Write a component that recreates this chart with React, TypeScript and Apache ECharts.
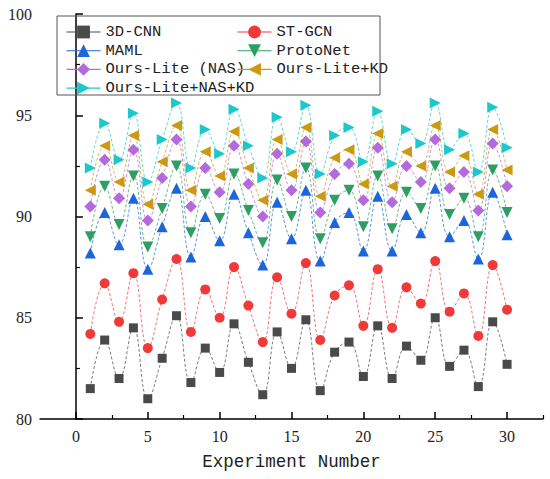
import React, { useEffect, useRef } from "react";
import * as echarts from "echarts";

const xValues = [1,2,3,4,5,6,7,8,9,10,11,12,13,14,15,16,17,18,19,20,21,22,23,24,25,26,27,28,29,30];

const cnn3d = [81.5,83.9,82.0,84.5,81.0,83.0,85.1,81.8,83.5,82.3,84.7,82.8,81.2,84.3,82.5,84.9,81.4,83.3,83.8,82.1,84.6,82.0,83.6,82.9,85.0,82.6,83.4,81.6,84.8,82.7];
const stgcn = [84.2,86.7,84.8,87.2,83.5,85.9,87.9,84.3,86.4,85.0,87.5,85.6,83.8,87.0,85.2,87.7,83.9,86.1,86.6,84.6,87.4,84.5,86.5,85.7,87.8,85.3,86.2,84.1,87.6,85.4];
const maml = [88.2,90.2,88.6,90.9,87.4,89.5,91.4,88.0,90.0,88.8,91.1,89.2,87.6,90.7,88.9,91.3,87.8,89.7,90.2,88.3,91.0,88.3,90.1,89.2,91.4,89.0,89.8,87.9,91.2,89.1];
const protonet = [89.0,91.5,89.6,92.0,88.5,90.4,92.5,89.2,91.1,89.9,92.1,90.3,88.7,91.8,90.0,92.4,88.9,90.8,91.3,89.5,92.0,89.4,91.2,90.4,92.5,90.1,90.9,89.0,92.3,90.2];
const oursNas = [90.5,92.8,90.9,93.3,89.8,91.9,93.8,90.5,92.4,91.2,93.5,91.6,90.0,93.1,91.3,93.7,90.2,92.1,92.6,90.8,93.4,90.7,92.5,91.7,93.8,91.4,92.2,90.3,93.6,91.5];
const oursKd = [91.3,93.5,91.7,94.0,90.6,92.7,94.5,91.3,93.2,92.0,94.2,92.4,90.8,93.8,92.1,94.4,91.0,92.9,93.3,91.6,94.1,91.5,93.2,92.5,94.5,92.2,93.0,91.1,94.3,92.3];
const oursNasKd = [92.4,94.6,92.8,95.1,91.7,93.8,95.6,92.4,94.3,93.1,95.3,93.5,91.9,94.9,93.2,95.5,92.1,94.0,94.4,92.7,95.2,92.6,94.3,93.6,95.6,93.3,94.1,92.2,95.4,93.4];

const seriesNames = ["3D-CNN","ST-GCN","MAML","ProtoNet","Ours-Lite (NAS)","Ours-Lite+KD","Ours-Lite+NAS+KD"];
const seriesData = [cnn3d, stgcn, maml, protonet, oursNas, oursKd, oursNasKd];
const seriesColors = ["#4a4a4a","#f03a3a","#1c66dc","#2e9e62","#b36adc","#cc9a12","#1cc8cc"];
const seriesSymbols = ["rect","circle","triangle","triangle","diamond","triangle","triangle"];
const seriesRotate = [0,0,0,180,0,90,-90];
const seriesSymbolSize = [9,10,11,11,12,11,11];

const xMajorTicks = [0,5,10,15,20,25,30];
const xMinorTicks = [2.5,7.5,12.5,17.5,22.5,27.5,32.5];
const legendCol1 = ["3D-CNN","MAML","Ours-Lite (NAS)","Ours-Lite+NAS+KD"];
const legendCol2 = ["ST-GCN","ProtoNet","Ours-Lite+KD"];

export default function App() {
  const ref = useRef<HTMLDivElement>(null);
  useEffect(() => {
    if (!ref.current) return;
    const chart = echarts.init(ref.current, undefined, { renderer: "svg" });
    const legendCommon = {
      orient: "vertical",
      top: 19,
      itemWidth: 34,
      itemHeight: 16,
      itemGap: 2.7,
      textStyle: { fontFamily: "Liberation Mono", fontSize: 15.5, color: "#222", lineHeight: 16 },
      lineStyle: { type: [200, 1], width: 1.1, opacity: 1 },
    };
    chart.setOption({
      animation: false,
      backgroundColor: "#ffffff",
      grid: { left: 40, right: 7, top: 14, bottom: 60 },
      xAxis: [
        {
          type: "value",
          min: -2.5,
          max: 32.5,
          name: "Experiment Number",
          nameLocation: "middle",
          nameGap: 34,
          nameTextStyle: { fontFamily: "Liberation Mono", fontSize: 17.5, color: "#222" },
          axisLine: { lineStyle: { color: "#000", width: 1.5 } },
          axisTick: { inside: true, length: 7, customValues: xMajorTicks, lineStyle: { color: "#000", width: 1.5 } },
          axisLabel: { customValues: xMajorTicks, fontFamily: "Liberation Serif", fontSize: 16, color: "#222", margin: 9 },
          splitLine: { show: false },
        },
        {
          type: "value",
          min: -2.5,
          max: 32.5,
          position: "bottom",
          axisLine: { show: false },
          axisTick: { inside: true, length: 4, customValues: xMinorTicks, lineStyle: { color: "#000", width: 1.2 } },
          axisLabel: { show: false },
          splitLine: { show: false },
        },
      ],
      yAxis: {
        type: "value",
        min: 80,
        max: 100,
        interval: 5,
        axisLine: { show: true, lineStyle: { color: "#000", width: 1.5 } },
        axisTick: { show: true, inside: true, length: 7, lineStyle: { color: "#000", width: 1.5 } },
        minorTick: { show: true, splitNumber: 2, length: 4, lineStyle: { color: "#000", width: 1.2 } },
        axisLabel: { fontFamily: "Liberation Serif", fontSize: 16, color: "#222", margin: 8 },
        splitLine: { show: false },
      },
      legend: [
        { ...legendCommon, left: 61, data: legendCol1 },
        { ...legendCommon, left: 232, data: legendCol2 },
      ],
      graphic: [
        {
          type: "rect",
          shape: { x: 57, y: 16, width: 323, height: 79 },
          style: { fill: "none", stroke: "#555", lineWidth: 1 },
          z: 100,
        },
      ],
      series: seriesNames.map((name, i) => ({
        name,
        type: "line",
        smooth: 0.45,
        data: xValues.map((x, j) => [x, seriesData[i][j]]),
        symbol: seriesSymbols[i],
        symbolSize: seriesSymbolSize[i],
        symbolRotate: seriesRotate[i],
        showAllSymbol: true,
        itemStyle: { color: seriesColors[i] },
        lineStyle: { color: seriesColors[i], width: 0.9, type: [3, 2], opacity: 0.8 },
      })),
    });
    return () => chart.dispose();
  }, []);
  return <div ref={ref} style={{ position: "fixed", left: 0, top: 0, width: 550, height: 479 }} />;
}
